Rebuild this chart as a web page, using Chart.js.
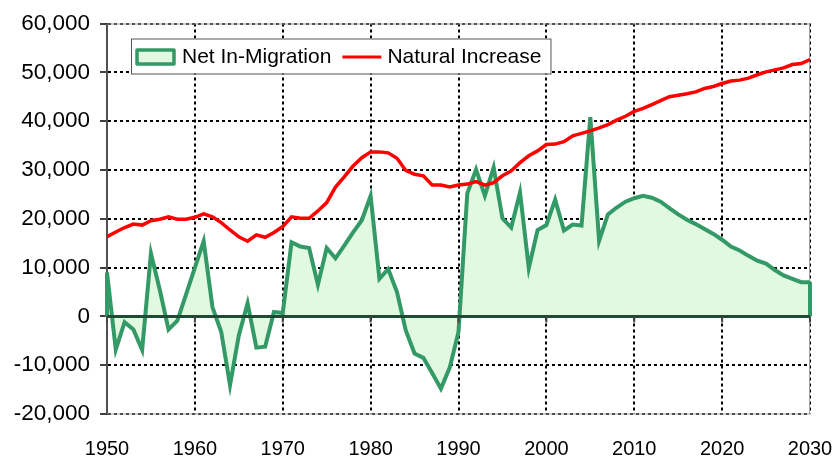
<!DOCTYPE html>
<html>
<head>
<meta charset="utf-8">
<script src="https://cdn.jsdelivr.net/npm/chart.js@4/dist/chart.umd.min.js"></script>
<style>
  html, body { margin: 0; padding: 0; background: #fff; }
  #wrap { width: 838px; height: 459px; }
</style>
</head>
<body>
<div id="wrap"><canvas id="popChart" width="838" height="459"></canvas></div>
<script>
const years = [];
for (let y = 1950; y <= 2030; y++) years.push(y);

const netMigration = [
  9000, -6800, -1200, -2700, -6900, 12900, 5500, -2700, -900, 4500,
  10000, 15400, 1900, -3200, -14100, -3900, 2700, -6400, -6200, 900,
  700, 15200, 14300, 14000, 6500, 14000, 11900, 14500, 17200, 19700,
  24700, 7700, 9700, 5000, -2900, -7600, -8500, -11600, -14800, -10500,
  -3200, 25200, 30100, 24700, 30500, 20100, 18200, 25400, 9900, 17700,
  18700, 23900, 17600, 18800, 18600, 40800, 15500, 20900, 22300, 23500,
  24200, 24700, 24300, 23500, 22200, 20900, 19800, 18900, 17900, 16900,
  15700, 14300, 13500, 12400, 11400, 10800, 9500, 8400, 7700, 7000,
  7000
];

const naturalIncrease = [
  16300, 17300, 18200, 18900, 18700, 19600, 19900, 20400, 19900, 19900,
  20300, 21000, 20400, 19200, 17700, 16300, 15400, 16700, 16200, 17200,
  18400, 20400, 20100, 20100, 21600, 23300, 26500, 28600, 30800, 32500,
  33700, 33700, 33500, 32400, 29900, 29100, 28800, 26900, 26900, 26500,
  26900, 27100, 27600, 26900, 27400, 28800, 29800, 31500, 32900, 33900,
  35200, 35300, 35800, 37000, 37500, 38000, 38600, 39300, 40200, 41000,
  42000, 42600, 43400, 44200, 45000, 45300, 45600, 46000, 46700, 47100,
  47700, 48200, 48400, 48800, 49500, 50100, 50500, 50900, 51600, 51800,
  52600
];

const xTicks = [1950, 1960, 1970, 1980, 1990, 2000, 2010, 2020, 2030];
const seriesNames = ["Net In-Migration", "Natural Increase"];

const GREEN = "#339966";
const GREEN_FILL = "#e0f9e0";
const RED = "#ff0000";

// frame, zero line, area end edges and the legend box
const decorations = {
  id: "decorations",
  beforeDatasetsDraw(chart) {
    const { ctx, chartArea: a } = chart;
    ctx.save();
    ctx.strokeStyle = "#a0a0a0";
    ctx.lineWidth = 1;
    ctx.strokeRect(a.left, a.top + 0.5, a.right - a.left - 0.5, a.bottom - a.top - 0.5);
    ctx.restore();
  },
  afterDatasetsDraw(chart) {
    const { ctx, chartArea: a, scales: { x, y } } = chart;
    const y0 = y.getPixelForValue(0);
    ctx.save();
    // vertical edges of the area at both ends
    ctx.strokeStyle = GREEN;
    ctx.lineWidth = 4;
    ctx.beginPath();
    const xl = x.getPixelForValue(years[0]);
    const xr = x.getPixelForValue(years[years.length - 1]);
    ctx.moveTo(xl, y.getPixelForValue(netMigration[0]));
    ctx.lineTo(xl, y0);
    ctx.moveTo(xr, y.getPixelForValue(netMigration[netMigration.length - 1]));
    ctx.lineTo(xr, y0);
    ctx.stroke();
    // zero axis
    ctx.strokeStyle = "#1f4a33";
    ctx.lineWidth = 3;
    ctx.beginPath();
    ctx.moveTo(a.left, y0);
    ctx.lineTo(a.right, y0);
    ctx.stroke();
    ctx.strokeStyle = "#444";
    ctx.lineWidth = 2;
    ctx.beginPath();
    xTicks.forEach(t => {
      const px = x.getPixelForValue(t);
      ctx.moveTo(px, y0);
      ctx.lineTo(px, y0 + 6);
    });
    ctx.stroke();
    ctx.restore();
  },
  afterDraw(chart) {
    const { ctx, chartArea: a } = chart;
    ctx.save();
    ctx.font = "21px 'Liberation Sans', Arial, sans-serif";
    const w1 = ctx.measureText(seriesNames[0]).width;
    const w2 = ctx.measureText(seriesNames[1]).width;
    const left = a.left + 24;
    const top = a.top + 15;
    const h = 35;
    const sw = 37;
    const t1 = left + 51;
    const r1 = t1 + w1 + 11;
    const t2 = r1 + 45;
    const width = t2 + w2 + 9 - left;
    ctx.fillStyle = "#fff";
    ctx.fillRect(left, top, width, h);
    ctx.strokeStyle = "#555";
    ctx.lineWidth = 1;
    ctx.strokeRect(left + 0.5, top + 0.5, width, h);
    const cy = top + h / 2 + 1;
    ctx.fillStyle = GREEN_FILL;
    ctx.fillRect(left + 6, cy - 7, sw, 14);
    ctx.strokeStyle = GREEN;
    ctx.lineWidth = 3.5;
    ctx.lineJoin = "round";
    ctx.strokeRect(left + 6, cy - 7, sw, 14);
    ctx.strokeStyle = RED;
    ctx.lineWidth = 3;
    ctx.beginPath();
    ctx.moveTo(r1, cy);
    ctx.lineTo(r1 + 39, cy);
    ctx.stroke();
    ctx.fillStyle = "#000";
    ctx.textBaseline = "middle";
    ctx.fillText(seriesNames[0], t1, cy);
    ctx.fillText(seriesNames[1], t2, cy);
    ctx.restore();
  }
};

const ctx = document.getElementById("popChart").getContext("2d");
new Chart(ctx, {
  type: "line",
  data: {
    datasets: [
      {
        label: seriesNames[1],
        data: years.map((yr, i) => ({ x: yr, y: naturalIncrease[i] })),
        borderColor: RED,
        borderWidth: 3.5,
        pointRadius: 0,
        tension: 0,
        fill: false,
        order: 0
      },
      {
        label: seriesNames[0],
        data: years.map((yr, i) => ({ x: yr, y: netMigration[i] })),
        borderColor: GREEN,
        backgroundColor: GREEN_FILL,
        borderWidth: 4,
        pointRadius: 0,
        tension: 0,
        fill: "origin",
        order: 1
      }
    ]
  },
  options: {
    responsive: false,
    animation: false,
    devicePixelRatio: 1,
    layout: { padding: { top: 20, right: 28, left: 0, bottom: 0 } },
    plugins: {
      legend: { display: false },
      tooltip: { enabled: false }
    },
    scales: {
      x: {
        type: "linear",
        min: 1950,
        max: 2030,
        afterFit: s => { s.height = 45; s.paddingLeft = 0; s.paddingRight = 0; },
        afterBuildTicks: s => { s.ticks = xTicks.map(v => ({ value: v })); },
        ticks: {
          color: "#000",
          padding: 23,
          maxRotation: 0,
          font: { family: "'Liberation Sans', Arial, sans-serif", size: 20 },
          callback: v => String(v)
        },
        grid: { color: "#000", lineWidth: 2, drawTicks: false },
        border: { display: false, dash: [3, 3] }
      },
      y: {
        min: -20000,
        max: 60000,
        afterFit: s => { s.width = 107; },
        ticks: {
          stepSize: 10000,
          color: "#000",
          padding: 10,
          font: { family: "'Liberation Sans', Arial, sans-serif", size: 22.5 },
          callback: v => v.toLocaleString("en-US")
        },
        grid: { color: "#000", lineWidth: 2, tickLength: 7, tickColor: "#000", tickWidth: 1.5 },
        border: { display: true, color: "#000", width: 2, dash: [3, 3] }
      }
    }
  },
  plugins: [decorations]
});
</script>
</body>
</html>
